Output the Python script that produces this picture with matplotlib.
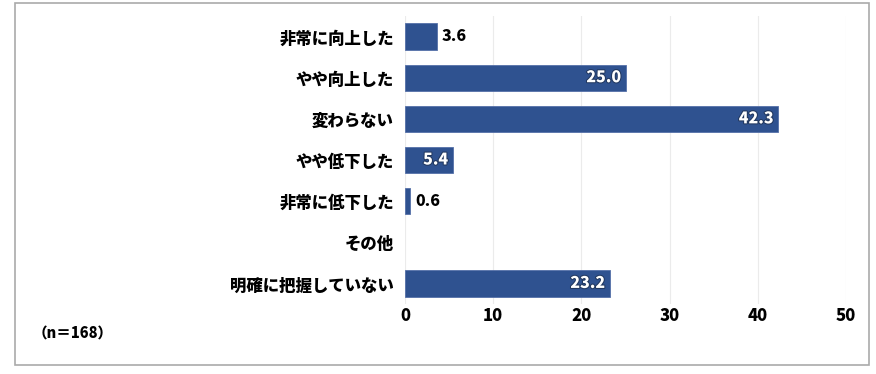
import matplotlib
matplotlib.use('Agg')
import matplotlib.pyplot as plt
import matplotlib.patheffects as pe
from matplotlib.patches import Rectangle

plt.rcParams['font.family'] = ['Noto Sans CJK JP', 'DejaVu Sans']

categories = ['非常に向上した', 'やや向上した', '変わらない', 'やや低下した',
              '非常に低下した', 'その他', '明確に把握していない']
values = [3.6, 25.0, 42.3, 5.4, 0.6, None, 23.2]
inside = [False, True, True, True, False, False, True]
xticks = [0, 10, 20, 30, 40, 50]

bar_color = '#2F5290'
W = 'black'

fig = plt.figure(figsize=(8.76, 3.74), dpi=100)
fig.patches.append(Rectangle((15 / 876, 1 - 365 / 374), 854 / 876, 362 / 374,
                             transform=fig.transFigure, fill=False,
                             edgecolor='#AAAAAA', linewidth=1.2))

ax = fig.add_axes([405 / 876, 1 - 304 / 374, 441 / 876, 288 / 374])
ys = list(range(len(categories)))
for y, v, ins in zip(ys, values, inside):
    if v is None:
        continue
    ax.barh(y, v, height=0.64, color=bar_color, edgecolor='#5570A8', linewidth=0.6, zorder=3)
    if ins:
        ax.text(v - 0.5, y, f'{v:.1f}', ha='right', va='center', color='white',
                fontsize=11.5, fontweight=W, zorder=4,
                path_effects=[pe.withStroke(linewidth=1.5, foreground='#22385F')])
    else:
        ax.text(v + 0.6, y, f'{v:.1f}', ha='left', va='center', color='black',
                fontsize=11.5, fontweight=W, zorder=4)

ax.set_xlim(0, 50)
ax.set_ylim(6.5, -0.5)
ax.set_xticks(xticks)
ax.set_xticklabels([str(t) for t in xticks], fontsize=12, fontweight=W)
ax.set_yticks(ys)
ax.set_yticklabels(categories, fontsize=11.8, fontweight=W)
ax.tick_params(length=0, pad=8)
ax.tick_params(axis='x', pad=2)
ax.grid(axis='x', color='#EBEBEB', linewidth=0.8, zorder=0)
for s in ax.spines.values():
    s.set_visible(False)

fig.text(33 / 876, 1 - 334 / 374, '（n＝168）', fontsize=10.5, fontweight=W,
         va='center', ha='left')

fig.savefig('out.png', dpi=100)
